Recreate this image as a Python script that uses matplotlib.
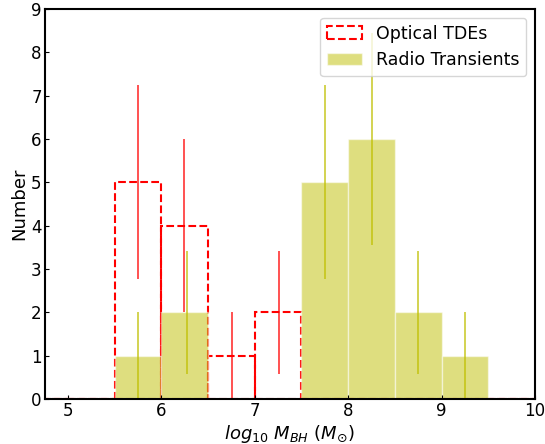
import numpy as np
import matplotlib
matplotlib.use("Agg")
import matplotlib.pyplot as plt

bin_edges = [4.5, 5.0, 5.5, 6.0, 6.5, 7.0, 7.5, 8.0, 8.5, 9.0, 9.5, 10.0]
optical_counts = [0, 0, 5, 4, 1, 2, 0, 0, 0, 0, 0]
radio_counts = [0, 0, 1, 2, 0, 0, 5, 6, 2, 1, 0]

optical_err_x = [5.75, 6.24, 6.76, 7.26]
optical_err_y = [5, 4, 1, 2]
radio_err_x = [5.75, 6.28, 7.75, 8.25, 8.75, 9.25]
radio_err_y = [1, 2, 5, 6, 2, 1]

fig = plt.figure(figsize=(5.45, 4.44), dpi=100)
ax = fig.add_axes([44.5/545, 1-399/444, (535-44.5)/545, (399-9)/444])

edges = np.array(bin_edges)
centers = (edges[:-1] + edges[1:]) / 2

ax.hist(centers, bins=edges, weights=optical_counts, histtype='bar',
        fill=False, edgecolor='red', linestyle='--', linewidth=1.5,
        label='Optical TDEs')
ax.hist(centers, bins=edges, weights=radio_counts, histtype='bar',
        color='y', alpha=0.5, edgecolor='white', linewidth=1.0,
        label='Radio Transients')

ax.errorbar(optical_err_x, optical_err_y, yerr=np.sqrt(optical_err_y),
            fmt='none', ecolor='red', elinewidth=1.2, alpha=0.8)
ax.errorbar(radio_err_x, radio_err_y, yerr=np.sqrt(radio_err_y),
            fmt='none', ecolor='y', elinewidth=1.2, alpha=0.8)

ax.set_xlim(4.75, 10)
ax.set_ylim(0, 9)
ax.set_xticks([5, 6, 7, 8, 9, 10])
ax.set_yticks(range(0, 10))
ax.tick_params(direction='in', labelsize=12, length=3, pad=2)
for s in ax.spines.values():
    s.set_linewidth(1.5)
ax.set_xlabel(r'$log_{10}\ M_{BH}\ (M_{\odot})$', fontsize=13, labelpad=2)
ax.set_ylabel('Number', fontsize=13, labelpad=2)
ax.legend(loc='upper right', fontsize=12.5, handlelength=2.0)

fig.savefig('out.png', dpi=100)
